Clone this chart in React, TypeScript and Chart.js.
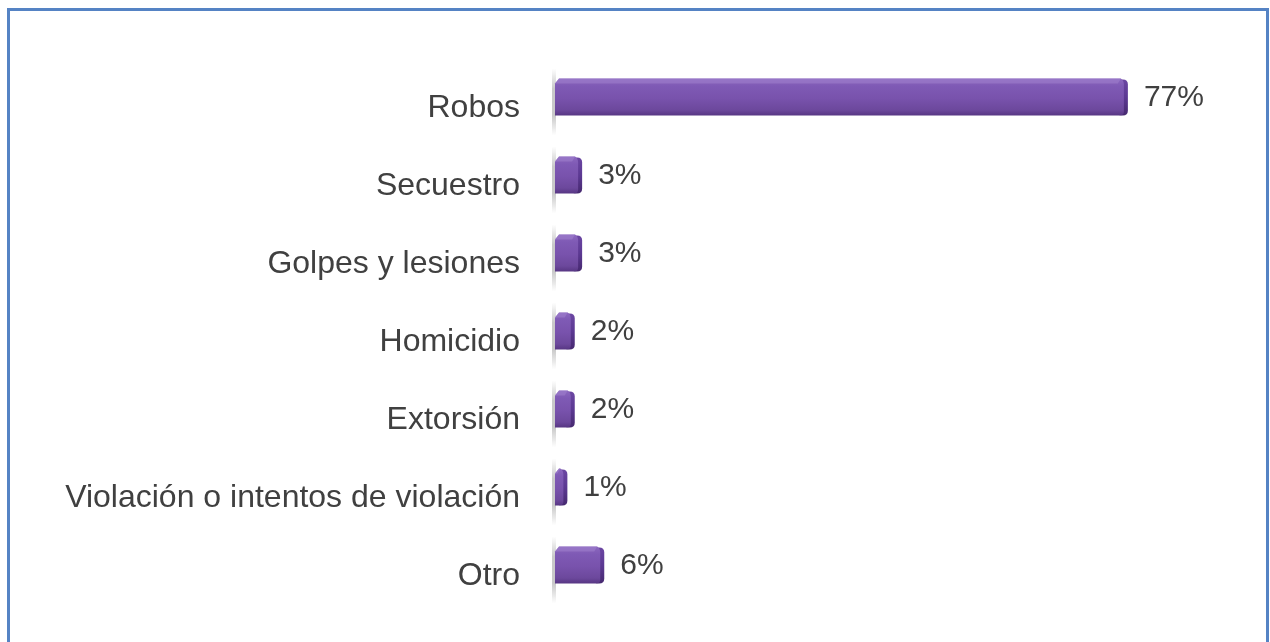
import { useEffect, useRef } from 'react';
import { Chart, registerables } from 'chart.js';

Chart.register(...registerables);

const categories = [
  'Robos',
  'Secuestro',
  'Golpes y lesiones',
  'Homicidio',
  'Extorsión',
  'Violación o intentos de violación',
  'Otro',
];
const values = [77, 3, 3, 2, 2, 1, 6];
const valueLabels = ['77%', '3%', '3%', '2%', '2%', '1%', '6%'];

const FONT = '"Liberation Sans", Arial, sans-serif';
const TEXT_COLOR = '#404040';

function roundRect(ctx: CanvasRenderingContext2D, x: number, y: number, w: number, h: number, r: number) {
  ctx.beginPath();
  ctx.moveTo(x + r, y);
  ctx.lineTo(x + w - r, y);
  ctx.quadraticCurveTo(x + w, y, x + w, y + r);
  ctx.lineTo(x + w, y + h - r);
  ctx.quadraticCurveTo(x + w, y + h, x + w - r, y + h);
  ctx.lineTo(x + r, y + h);
  ctx.quadraticCurveTo(x, y + h, x, y + h - r);
  ctx.lineTo(x, y + r);
  ctx.quadraticCurveTo(x, y, x + r, y);
  ctx.closePath();
}

const bar3d = {
  id: 'bar3d',
  afterDatasetsDraw(chart: any) {
    const ctx: CanvasRenderingContext2D = chart.ctx;
    const meta = chart.getDatasetMeta(0);
    ctx.save();
    meta.data.forEach((el: any, i: number) => {
      const { x, y, base, height } = el.getProps(['x', 'y', 'base', 'height'], true);
      const top = y - height / 2;
      const bot = y + height / 2;
      const cap = 5;

      // soft wall shadow on the left
      const s0 = top - 10;
      const s1 = bot + 20;
      const sg = ctx.createLinearGradient(0, s0, 0, s1);
      sg.addColorStop(0, 'rgba(120,120,120,0)');
      sg.addColorStop(0.3, 'rgba(120,120,120,0.4)');
      sg.addColorStop(0.7, 'rgba(120,120,120,0.4)');
      sg.addColorStop(1, 'rgba(120,120,120,0)');
      ctx.fillStyle = sg;
      ctx.fillRect(base - 3, s0, 4, s1 - s0);

      // right cap (darker, rounded)
      const cg = ctx.createLinearGradient(0, top, 0, bot);
      cg.addColorStop(0, '#6c47a3');
      cg.addColorStop(0.5, '#5c3993');
      cg.addColorStop(1, '#46296f');
      ctx.fillStyle = cg;
      roundRect(ctx, x - 6, top + 1, cap + 6, height - 1, 5);
      ctx.fill();

      // front face
      const fg = ctx.createLinearGradient(0, top, 0, bot);
      fg.addColorStop(0, '#8c68bf');
      fg.addColorStop(0.2, '#7f5ab5');
      fg.addColorStop(0.55, '#7852ac');
      fg.addColorStop(0.85, '#6c489c');
      fg.addColorStop(1, '#573683');
      ctx.fillStyle = fg;
      ctx.beginPath();
      ctx.moveTo(base + 4, top);
      ctx.lineTo(x - 2, top);
      ctx.quadraticCurveTo(x + 1, top + 2, x + 1, top + 6);
      ctx.lineTo(x + 1, bot - 4);
      ctx.quadraticCurveTo(x + 1, bot, x - 3, bot);
      ctx.lineTo(base, bot);
      ctx.lineTo(base, top + 5);
      ctx.closePath();
      ctx.fill();

      // top face highlight
      ctx.fillStyle = 'rgba(160,130,205,0.55)';
      ctx.beginPath();
      ctx.moveTo(base + 4, top);
      ctx.lineTo(x - 2, top);
      ctx.lineTo(x - 5, top + 5);
      ctx.lineTo(base, top + 5);
      ctx.closePath();
      ctx.fill();

      // value label
      ctx.fillStyle = TEXT_COLOR;
      ctx.font = `30px ${FONT}`;
      ctx.textAlign = 'left';
      ctx.textBaseline = 'middle';
      ctx.fillText(valueLabels[i], x + cap + 16, y + 1);
    });
    ctx.restore();
  },
};

export default function App() {
  const canvasRef = useRef<HTMLCanvasElement | null>(null);

  useEffect(() => {
    if (!canvasRef.current) return;
    const chart = new Chart(canvasRef.current, {
      type: 'bar',
      data: {
        labels: categories,
        datasets: [
          {
            data: values,
            backgroundColor: 'rgba(0,0,0,0)',
            borderWidth: 0,
            barThickness: 37,
          },
        ],
      },
      options: {
        indexAxis: 'y',
        animation: false,
        responsive: true,
        maintainAspectRatio: false,
        layout: { padding: { left: 0, right: 125, top: 58, bottom: 38 } },
        plugins: {
          legend: { display: false },
          tooltip: { enabled: false },
        },
        scales: {
          x: { display: false, min: 0, max: 80 },
          y: {
            grid: { display: false, drawTicks: false },
            border: { display: false },
            ticks: {
              color: TEXT_COLOR,
              font: { family: FONT, size: 32 },
              padding: 35,
              labelOffset: 11,
            },
            afterFit: (s: any) => {
              s.width = 555;
              s.paddingTop = 0;
              s.paddingBottom = 0;
            },
          },
        },
      },
      plugins: [bar3d],
    });
    return () => chart.destroy();
  }, []);

  return (
    <div style={{ position: 'fixed', left: 0, top: 0, width: 1270, height: 642, overflow: 'hidden', background: '#fff' }}>
      <div
        style={{
          position: 'absolute',
          left: 7,
          top: 8,
          width: 1262,
          height: 700,
          border: '3px solid #5583c4',
          boxSizing: 'border-box',
        }}
      />
      <div style={{ position: 'absolute', left: 0, top: 0, width: 1270, height: 642 }}>
        <canvas ref={canvasRef} />
      </div>
    </div>
  );
}
